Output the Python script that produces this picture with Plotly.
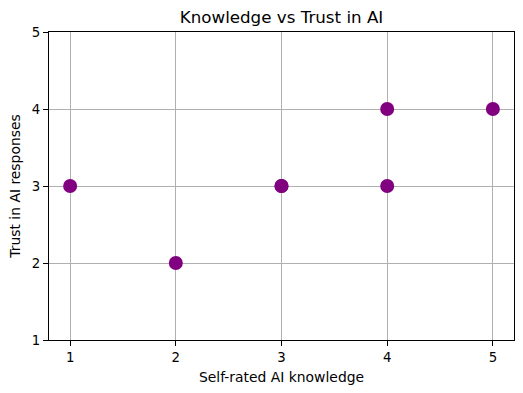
import plotly.graph_objects as go

knowledge = [1, 2, 3, 4, 4, 5, 3]
trust = [3, 2, 3, 4, 3, 4, 3]
x_ticks = [1, 2, 3, 4, 5]
y_ticks = [1, 2, 3, 4, 5]

fig = go.Figure()
fig.add_trace(go.Scatter(
    x=knowledge, y=trust, mode="markers",
    marker=dict(color="#800080", size=14, line=dict(width=0)),
))

axis_common = dict(
    showgrid=True, gridcolor="#b0b0b0", gridwidth=1,
    showline=True, linecolor="black", linewidth=1.3, mirror=True,
    ticks="outside", ticklen=5, tickwidth=1, tickcolor="black",
    zeroline=False, layer="above traces",
    tickfont=dict(family="DejaVu Sans", size=13.3, color="black"),
)

fig.update_layout(
    width=523, height=393,
    margin=dict(l=49, r=9, t=32, b=53),
    plot_bgcolor="white", paper_bgcolor="white",
    showlegend=False,
    font=dict(family="DejaVu Sans", color="black"),
    title=dict(text="Knowledge vs Trust in AI", x=0.5, xref="paper", xanchor="center",
               y=1 - 17 / 393, yanchor="middle",
               font=dict(family="DejaVu Sans", size=16.7, color="black")),
    xaxis=dict(range=[0.8, 5.2], tickvals=x_ticks,
               title=dict(text="Self-rated AI knowledge", standoff=8,
                          font=dict(family="DejaVu Sans", size=13.9)),
               **axis_common),
    yaxis=dict(range=[1, 5], tickvals=y_ticks,
               title=dict(text="Trust in AI responses", standoff=7,
                          font=dict(family="DejaVu Sans", size=13.9)),
               **axis_common),
)

fig.write_html("out.html")
